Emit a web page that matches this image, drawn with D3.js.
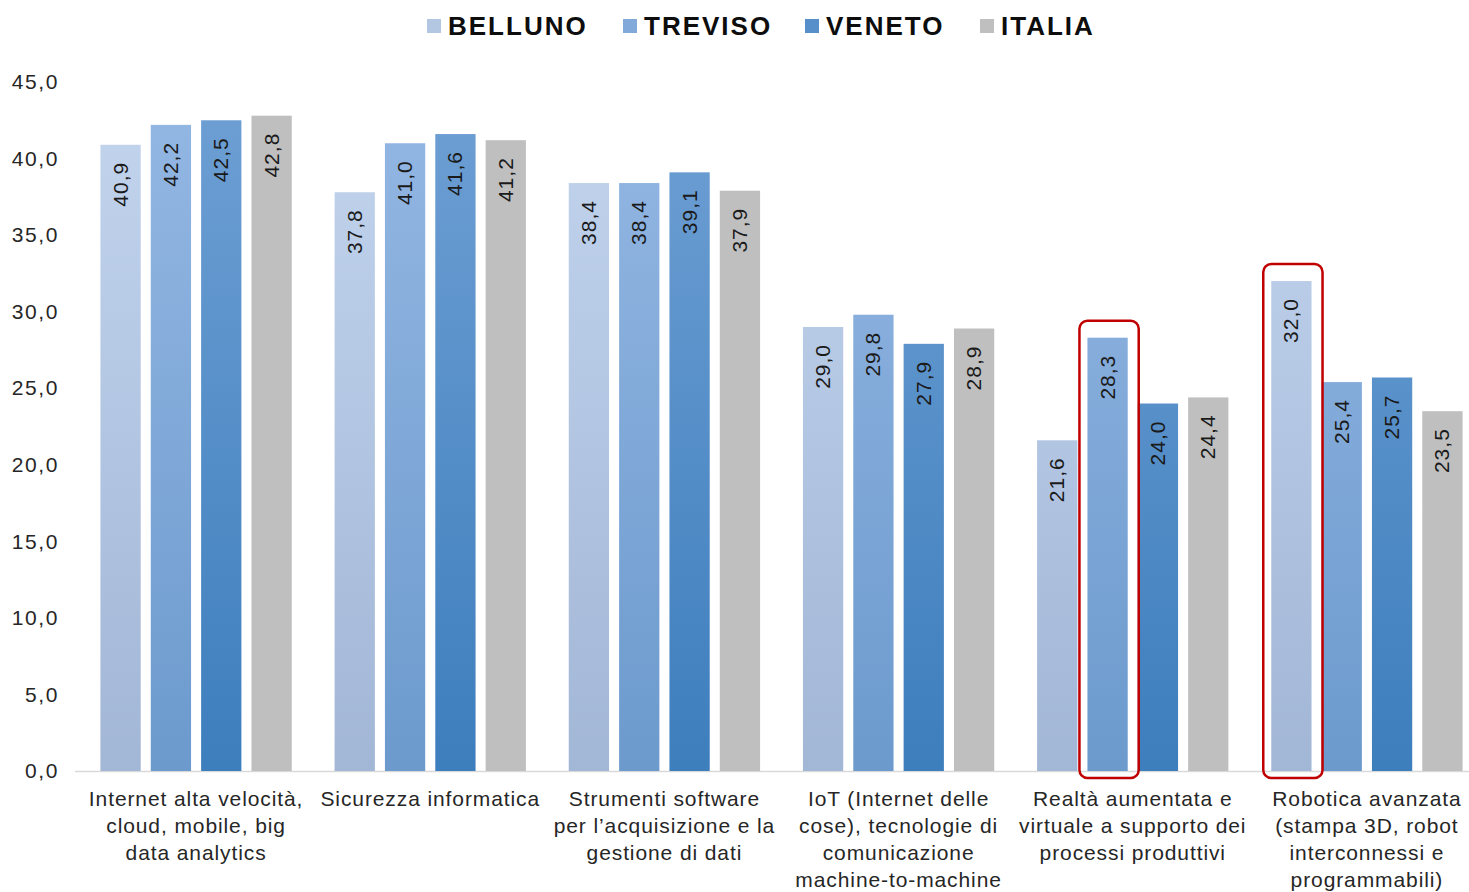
<!DOCTYPE html>
<html>
<head>
<meta charset="utf-8">
<script src="https://cdn.jsdelivr.net/npm/d3@7"></script>
<style>
	body { margin: 0; background: #fff; }
	svg { display: block; font-family: "Liberation Sans", Arial, sans-serif; }
</style>
</head>
<body>
<svg id="chart" width="1469" height="892"></svg>
<script>
const categories = [
	["Internet alta velocità,", "cloud, mobile, big", "data analytics"],
	["Sicurezza informatica"],
	["Strumenti software", "per l’acquisizione e la", "gestione di dati"],
	["IoT (Internet delle", "cose), tecnologie di", "comunicazione", "machine-to-machine"],
	["Realtà aumentata e", "virtuale a supporto dei", "processi produttivi"],
	["Robotica avanzata", "(stampa 3D, robot", "interconnessi e", "programmabili)"]
];
const seriesNames = ["BELLUNO", "TREVISO", "VENETO", "ITALIA"];
const belluno = [40.9, 37.8, 38.4, 29.0, 21.6, 32.0];
const treviso = [42.2, 41.0, 38.4, 29.8, 28.3, 25.4];
const veneto = [42.5, 41.6, 39.1, 27.9, 24.0, 25.7];
const italia = [42.8, 41.2, 37.9, 28.9, 24.4, 23.5];
const yTicks = [0, 5, 10, 15, 20, 25, 30, 35, 40, 45];
// highlighted bars: [category index, series index]
const highlights = [[4, 1], [5, 0]];

const values = [belluno, treviso, veneto, italia];
const fmt = v => d3.format(".1f")(v).replace(".", ",");

// gradient stops per series: [top, bottom]
const fills = [
	["#c3d5ee", "#a2b6d6"],
	["#95b8e4", "#6c9acd"],
	["#6fa0d4", "#3d7ebd"],
	["#bfbfbf", "#bfbfbf"]
];

const svg = d3.select("#chart");
const baseY = 771;

const x0 = d3.scaleBand()
	.domain(d3.range(categories.length))
	.range([79, 1484])
	.paddingInner(0.14)
	.paddingOuter(0.07);
const x1 = d3.scaleBand()
	.domain(d3.range(seriesNames.length))
	.range([0, x0.bandwidth()])
	.paddingInner(0.2)
	.paddingOuter(0.1);
const y = d3.scaleLinear().domain([0, 45]).range([baseY, 82]);

const defs = svg.append("defs");
fills.forEach((f, i) => {
	const g = defs.append("linearGradient")
		.attr("id", "grad" + i)
		.attr("gradientUnits", "userSpaceOnUse")
		.attr("x1", 0).attr("x2", 0)
		.attr("y1", y(45)).attr("y2", baseY);
	g.append("stop").attr("offset", "0%").attr("stop-color", f[0]);
	g.append("stop").attr("offset", "100%").attr("stop-color", f[1]);
});

// y axis labels
const yAxis = svg.append("g")
	.attr("transform", "translate(59,0)")
	.call(d3.axisLeft(y).tickValues(yTicks).tickFormat(fmt).tickSize(0).tickPadding(0));
yAxis.select(".domain").remove();
yAxis.selectAll("text")
	.attr("font-size", 21)
	.attr("font-family", "Liberation Sans, Arial, sans-serif")
	.attr("letter-spacing", 1.6)
	.attr("fill", "#262626");

// baseline
svg.append("line")
	.attr("x1", 75).attr("x2", 1469)
	.attr("y1", baseY + 0.5).attr("y2", baseY + 0.5)
	.attr("stroke", "#d9d9d9").attr("stroke-width", 1.5);

// bars
const groups = svg.append("g").selectAll("g")
	.data(categories)
	.join("g")
	.attr("transform", (d, i) => `translate(${x0(i)},0)`);

const bars = groups.selectAll(".bar")
	.data((d, i) => values.map((s, j) => ({ c: i, s: j, v: s[i] })))
	.join("g")
	.attr("class", "bar");

bars.append("rect")
	.attr("x", d => x1(d.s))
	.attr("width", x1.bandwidth())
	.attr("y", d => y(d.v))
	.attr("height", d => baseY - y(d.v))
	.attr("fill", d => `url(#grad${d.s})`);

bars.append("text")
	.attr("transform", d => `translate(${x1(d.s) + x1.bandwidth() / 2 + 7},${y(d.v) + 17}) rotate(-90)`)
	.attr("text-anchor", "end")
	.attr("font-size", 21)
	.attr("letter-spacing", 1)
	.attr("fill", "#1a1a1a")
	.text(d => fmt(d.v));

// highlight frames
svg.append("g").selectAll("rect")
	.data(highlights)
	.join("rect")
	.attr("x", d => x0(d[0]) + x1(d[1]) - 8)
	.attr("width", x1.bandwidth() + 19)
	.attr("y", d => y(values[d[1]][d[0]]) - 17)
	.attr("height", d => baseY + 7 - y(values[d[1]][d[0]]) + 17)
	.attr("rx", 8)
	.attr("fill", "none")
	.attr("stroke", "#c00000")
	.attr("stroke-width", 2.5);

// category labels
groups.append("text")
	.attr("text-anchor", "middle")
	.attr("font-size", 21)
	.attr("letter-spacing", 0.9)
	.attr("fill", "#262626")
	.selectAll("tspan")
	.data(d => d)
	.join("tspan")
	.attr("x", x0.bandwidth() / 2)
	.attr("y", (d, i) => 806 + i * 27)
	.text(d => d);

// legend
const legendX = [427, 623, 805, 980];
const legend = svg.append("g").selectAll("g")
	.data(seriesNames)
	.join("g")
	.attr("transform", (d, i) => `translate(${legendX[i]},0)`);
legend.append("rect")
	.attr("y", 19).attr("width", 14).attr("height", 14)
	.attr("fill", (d, i) => fills[i][0] === fills[i][1] ? fills[i][0] : d3.interpolateRgb(fills[i][0], fills[i][1])(0.5));
legend.append("text")
	.attr("x", 21).attr("y", 35)
	.attr("font-size", 26)
	.attr("font-weight", "bold")
	.attr("letter-spacing", 2)
	.attr("fill", "#0d0d0d")
	.text(d => d);
</script>
</body>
</html>
